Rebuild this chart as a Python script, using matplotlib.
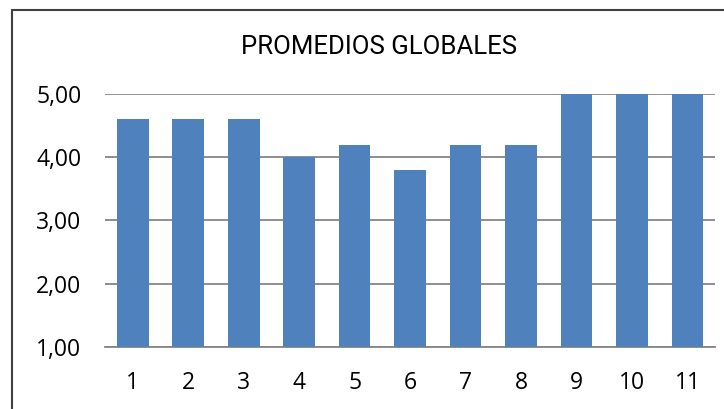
import matplotlib.pyplot as plt
from matplotlib.patches import Rectangle
from matplotlib.ticker import FuncFormatter

categorias = [str(i) for i in range(1, 12)]
promedios = [4.6, 4.6, 4.6, 4.0, 4.2, 3.8, 4.2, 4.2, 5.0, 5.0, 5.0]
yticks = [1, 2, 3, 4, 5]

fig = plt.figure(figsize=(7.24, 4.09), dpi=100)
ax = fig.add_axes([0.145, 0.1516, 0.843, 0.6186])

x = list(range(1, len(categorias) + 1))
ax.bar(x, [p - 1 for p in promedios], bottom=1, width=0.57,
       color='#4F81BD', zorder=3)

ax.set_xlim(0.5, 11.5)
ax.set_ylim(1, 5)
ax.set_yticks(yticks)
ax.yaxis.set_major_formatter(FuncFormatter(lambda v, p: f'{v:.2f}'.replace('.', ',')))
ax.set_xticks(x)
ax.set_xticklabels(categorias)
ax.grid(axis='y', color='#868686', linewidth=1.3, zorder=0)
for s in ['top', 'right', 'left']:
    ax.spines[s].set_visible(False)
ax.spines['bottom'].set_color('#868686')
ax.spines['bottom'].set_linewidth(1.3)
ax.tick_params(length=0, labelsize=16.5, colors='black')
ax.tick_params(axis='x', pad=17)
ax.tick_params(axis='y', pad=17)
for lab in ax.get_xticklabels() + ax.get_yticklabels():
    lab.set_fontfamily('Open Sans')

fig.text(0.524, 0.884, 'PROMEDIOS GLOBALES', ha='center', va='center',
         fontsize=18.5, family='Roboto')

# borde del grafico
fig.patches.append(Rectangle((12 / 724, -0.1), 1.2, 1 - 10 / 409 + 0.1,
                             transform=fig.transFigure, fill=False,
                             edgecolor='#404040', linewidth=1.5))

fig.savefig('out.png', dpi=100)
